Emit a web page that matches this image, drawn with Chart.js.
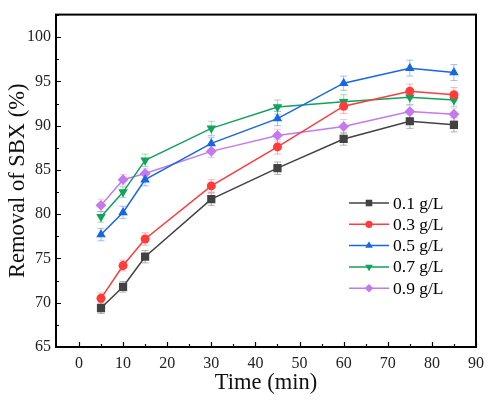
<!DOCTYPE html>
<html>
<head>
<meta charset="utf-8">
<script src="https://cdn.jsdelivr.net/npm/chart.js@4.4.0/dist/chart.umd.min.js"></script>
<style>
    html, body { margin: 0; padding: 0; background: #fff; }
    #wrap { width: 491px; height: 402px; }
</style>
</head>
<body>
<div id="wrap"><canvas id="chart-line"></canvas></div>
<script>
// data
var times = [5, 10, 15, 30, 45, 60, 75, 85];
var labels = ["0.1 g/L", "0.3 g/L", "0.5 g/L", "0.7 g/L", "0.9 g/L"];
var s01 = [69.4, 71.8, 75.2, 81.7, 85.2, 88.5, 90.5, 90.1];
var s03 = [70.5, 74.2, 77.2, 83.2, 87.6, 92.2, 93.9, 93.5];
var s05 = [77.7, 80.2, 83.9, 88.0, 90.8, 94.8, 96.5, 96.0];
var s07 = [79.7, 82.5, 86.1, 89.7, 92.1, 92.7, 93.2, 92.9];
var s09 = [81.0, 83.9, 84.6, 87.1, 88.9, 89.9, 91.6, 91.3];
var e01 = [0.6, 0.6, 0.7, 0.7, 0.7, 0.7, 0.8, 0.8];
var e03 = [0.6, 0.6, 0.7, 0.7, 0.8, 0.8, 0.8, 0.8];
var e05 = [0.7, 0.7, 0.7, 0.7, 0.8, 0.8, 0.9, 0.9];
var e07 = [0.6, 0.6, 0.7, 0.8, 0.8, 0.8, 0.8, 0.7];
var e09 = [0.7, 0.6, 0.6, 0.7, 0.7, 0.8, 0.7, 0.7];
var xTicks = [0, 10, 20, 30, 40, 50, 60, 70, 80, 90];
var yTicks = [65, 70, 75, 80, 85, 90, 95, 100];

var colors = ["#424242", "#ff3b3b", "#1766e6", "#11a25c", "#c479ef"];
var styles = ["rect", "circle", "triangle", "triangle", "rectRot"];
var rotations = [0, 0, 0, 180, 0];
var radii = [5.8, 4.5, 5.5, 5.5, 5.4];
var series = [s01, s03, s05, s07, s09];
var errors = [e01, e03, e05, e07, e09];

var serif = "'Liberation Serif', 'Times New Roman', serif";

function toPoints(arr) {
    return arr.map(function (v, i) { return { x: times[i], y: v }; });
}

var datasets = series.map(function (arr, k) {
    return {
        label: labels[k],
        data: toPoints(arr),
        errs: errors[k],
        borderColor: colors[k],
        backgroundColor: colors[k],
        borderWidth: 1.5,
        pointStyle: styles[k],
        pointRotation: rotations[k],
        pointRadius: radii[k],
        pointBorderWidth: 0,
        tension: 0
    };
});

// pale error bars under the markers
var errorBars = {
    id: 'errorBars',
    beforeDatasetsDraw: function (chart) {
        var ctx = chart.ctx, xs = chart.scales.x, ys = chart.scales.y;
        ctx.save();
        chart.data.datasets.forEach(function (ds) {
            ctx.strokeStyle = ds.borderColor;
            ctx.globalAlpha = 0.4;
            ctx.lineWidth = 1;
            ds.data.forEach(function (p, i) {
                var px = xs.getPixelForValue(p.x);
                var top = ys.getPixelForValue(p.y + ds.errs[i]);
                var bot = ys.getPixelForValue(p.y - ds.errs[i]);
                ctx.beginPath();
                ctx.moveTo(px, top); ctx.lineTo(px, bot);
                ctx.moveTo(px - 3.5, top); ctx.lineTo(px + 3.5, top);
                ctx.moveTo(px - 3.5, bot); ctx.lineTo(px + 3.5, bot);
                ctx.stroke();
            });
        });
        ctx.restore();
    }
};

// box frame, inward ticks and the legend inside the plot
var frame = {
    id: 'frame',
    afterDraw: function (chart) {
        var ctx = chart.ctx, a = chart.chartArea, xs = chart.scales.x, ys = chart.scales.y;
        ctx.save();
        ctx.strokeStyle = "#000";
        ctx.lineWidth = 1.2;
        ctx.beginPath();
        for (var t = 0; t <= 90; t += 5) {
            var px = Math.round(xs.getPixelForValue(t)) + 0.5;
            var len = t % 10 === 0 ? 5 : 3;
            ctx.moveTo(px, a.bottom); ctx.lineTo(px, a.bottom - len);
        }
        for (var v = 65; v <= 102.5; v += 2.5) {
            var py = Math.round(ys.getPixelForValue(v)) + 0.5;
            var l2 = v % 5 === 0 ? 5 : 3;
            ctx.moveTo(a.left, py); ctx.lineTo(a.left + l2, py);
        }
        ctx.stroke();
        ctx.lineWidth = 2;
        ctx.strokeRect(a.left, a.top, a.right - a.left, a.bottom - a.top);

        // legend
        ctx.font = "17.5px " + serif;
        ctx.textBaseline = "middle";
        ctx.textAlign = "left";
        chart.data.datasets.forEach(function (ds, k) {
            var y = 203 + k * 21.3;
            ctx.strokeStyle = ds.borderColor;
            ctx.fillStyle = ds.borderColor;
            ctx.lineWidth = 1.5;
            ctx.beginPath();
            ctx.moveTo(349, y); ctx.lineTo(389, y);
            ctx.stroke();
            Chart.helpers.drawPoint(ctx, {
                pointStyle: ds.pointStyle,
                rotation: ds.pointRotation,
                radius: ds.pointRadius * 0.8,
                borderWidth: 0
            }, 369, y);
            ctx.fillStyle = "#000";
            ctx.fillText(ds.label, 393, y + 1);
        });
        ctx.restore();
    }
};

var ctx = document.getElementById("chart-line").getContext("2d");

new Chart(ctx, {
    type: "line",
    data: { datasets: datasets },
    plugins: [errorBars, frame],
    options: {
        responsive: true,
        maintainAspectRatio: false,
        animation: false,
        layout: { padding: { top: 7, right: 13, left: 0, bottom: 0 } },
        plugins: {
            legend: { display: false },
            tooltip: { enabled: false }
        },
        scales: {
            x: {
                type: "linear",
                min: -5.2,
                max: 90,
                afterBuildTicks: function (scale) {
                    scale.ticks = xTicks.map(function (v) { return { value: v }; });
                },
                afterFit: function (scale) { scale.height = 55; },
                grid: { display: false, drawTicks: false },
                border: { display: false },
                ticks: {
                    padding: 7,
                    color: "#222",
                    maxRotation: 0,
                    autoSkip: false,
                    font: { size: 16, family: serif }
                },
                title: {
                    display: true,
                    text: "Time (min)",
                    color: "#111",
                    padding: { top: 0, bottom: 5 },
                    font: { size: 22.5, family: serif }
                }
            },
            y: {
                min: 65,
                max: 102.55,
                afterBuildTicks: function (scale) {
                    scale.ticks = yTicks.map(function (v) { return { value: v }; });
                },
                afterFit: function (scale) { scale.width = 56; },
                grid: { display: false, drawTicks: false },
                border: { display: false },
                ticks: {
                    padding: 5,
                    color: "#222",
                    autoSkip: false,
                    font: { size: 16, family: serif }
                },
                title: {
                    display: true,
                    text: "Removal of SBX (%)",
                    color: "#111",
                    padding: { top: 4.5, bottom: 0 },
                    font: { size: 22.5, family: serif }
                }
            }
        }
    }
});
</script>
</body>
</html>
